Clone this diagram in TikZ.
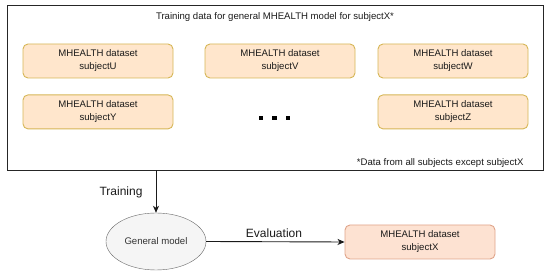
\documentclass[tikz,border=0pt]{standalone}
\usepackage{fontspec}
\setmainfont{Liberation Sans}
\usetikzlibrary{arrows.meta,positioning,shapes.geometric}
\definecolor{mhfill}{HTML}{FFE6CC}
\definecolor{mhline}{HTML}{D6B656}
\definecolor{xfill}{HTML}{FDE2D2}
\definecolor{xline}{HTML}{E0A48A}
\definecolor{gmfill}{HTML}{F5F5F5}
\definecolor{gmline}{HTML}{666666}
\definecolor{mhink}{HTML}{1A1A1A}
\tikzset{
  dset/.style={rounded corners=5pt, align=center, font=\fontsize{9.6}{13}\selectfont, text=mhink, minimum width=150pt, minimum height=34pt, inner sep=1pt, draw=mhline, fill=mhfill, line width=0.9pt},
  dsetx/.style={dset, draw=xline, fill=xfill},
  frm/.style={draw=black!85, line width=0.9pt},
  gm/.style={ellipse, draw=gmline, fill=gmfill, minimum width=100pt, minimum height=57pt, inner sep=0pt, font=\fontsize{9.6}{11.5}\selectfont, text=black!80},
  dot/.style={fill=black, minimum size=4.5pt, inner sep=0pt},
  lbl/.style={font=\fontsize{12}{14}\selectfont, text=mhink},
  note/.style={font=\fontsize{9.6}{11.5}\selectfont, text=mhink},
  arr/.style={-{Stealth[length=7pt, width=6pt, inset=2pt]}, line width=0.9pt, color=mhink},
}
\begin{document}
\begin{tikzpicture}
  \useasboundingbox (0,0) rectangle (550pt,276pt);
  % training data frame
  \node[frm, minimum width=536pt, minimum height=165pt, inner sep=0pt] (frame) at (275pt,188.5pt) {};
  \node[note] (title) at (275pt,259pt) {Training data for general MHEALTH model for subjectX*};
  \node[dset] (subU) at (98pt,215pt) {MHEALTH dataset\\subjectU};
  \node[dset] (subV) at (280pt,215pt) {MHEALTH dataset\\subjectV};
  \node[dset] (subW) at (453pt,215pt) {MHEALTH dataset\\subjectW};
  \node[dset, below=16pt of subU] (subY) {MHEALTH dataset\\subjectY};
  \node[dset, below=16pt of subW] (subZ) {MHEALTH dataset\\subjectZ};
  \node[dot] (d1) at (261pt,158pt) {};
  \node[dot, right=8.5pt of d1] (d2) {};
  \node[dot, right=8.5pt of d2] (d3) {};
  \node[note, anchor=east] (fn) at (527pt,113pt) {*Data from all subjects except subjectX};
  % model and evaluation
  \node[gm] (model) at (156pt,34.5pt) {General model};
  \node[dsetx] (subX) at (420pt,34pt) {MHEALTH dataset\\subjectX};
  \draw[arr] (model.north |- frame.south) -- (model.north);
  \node[lbl] (train) at (121pt,84pt) {Training};
  \draw[arr] (model.east) -- (subX.west);
  \node[lbl] (eval) at (274pt,43pt) {Evaluation};
\end{tikzpicture}
\end{document}
